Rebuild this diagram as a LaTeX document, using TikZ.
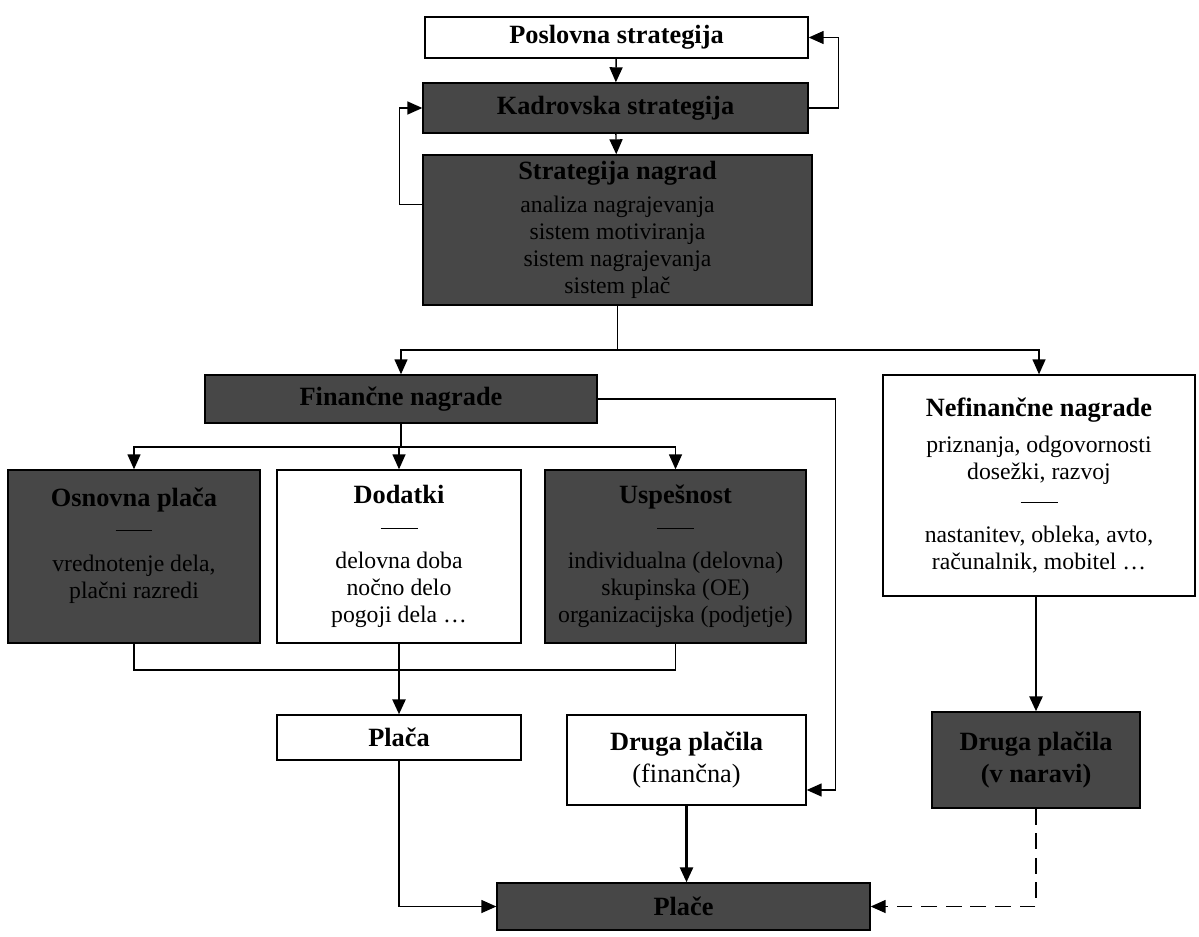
\documentclass[tikz,border=0pt]{standalone}
\usepackage{fontspec}
\setmainfont{Liberation Serif}
\usepackage{tikz}
\usetikzlibrary{arrows.meta,positioning,calc}
\newcommand{\sepline}{\rule[0.3em]{0.74cm}{0.6pt}}
\newcommand{\hd}[1]{{\fontsize{15}{17}\selectfont\bfseries #1}}

\begin{document}
\begin{tikzpicture}[x=0.02cm, y=-0.02cm,
    every node/.style={font=\fontsize{13.5}{15.5}\selectfont},
    lightbox/.style={draw, line width=0.8pt, fill=white, align=center, inner sep=2pt},
    darkbox/.style={lightbox, fill=black!72},
    arr/.style={line width=0.8pt, -{Triangle[length=3mm, width=2.6mm]}},
    thickarr/.style={line width=1.5pt, -{Triangle[length=3mm, width=2.6mm]}},
    link/.style={line width=0.8pt}]
    \useasboundingbox (0,0) rectangle (1199,936);

    % Strategy levels
    \node[lightbox, minimum width=7.66cm, minimum height=0.82cm] (posl) at (616.5,37.5) {\hd{Poslovna strategija}};
    \node[darkbox, minimum width=7.7cm, minimum height=1cm] (kadr) at (615.5,108) {\hd{Kadrovska strategija}};
    \node[darkbox, inner ysep=0pt, minimum width=7.78cm, minimum height=3cm] (strat) at (617.5,230)
        {\hd{Strategija nagrad}\\[3pt] analiza nagrajevanja\\ sistem motiviranja\\ sistem nagrajevanja\\ sistem plač};

    % Reward groups
    \node[darkbox, minimum width=7.84cm, minimum height=0.96cm] (fin) at (401,399) {\hd{Finančne nagrade}};
    \node[lightbox, minimum width=6.24cm, minimum height=4.42cm] (nefin) at (1039,485.5)
        {\hd{Nefinančne nagrade}\\[5pt] priznanja, odgovornosti\\ dosežki, razvoj\\[2pt] \sepline\\[3pt] nastanitev, obleka, avto,\\ računalnik, mobitel \dots};

    % Financial components
    \node[darkbox, minimum width=5.04cm, minimum height=3.46cm] (osn) at (134,556.5)
        {\hd{Osnovna plača}\\[3pt] \sepline\\[3pt] vrednotenje dela,\\ plačni razredi\\ ~};
    \node[lightbox, minimum width=4.88cm, minimum height=3.46cm] (dod) at (399,556.5)
        {\hd{Dodatki}\\[3pt] \sepline\\[3pt] delovna doba\\ nočno delo\\ pogoji dela \dots};
    \node[darkbox, minimum width=5.22cm, minimum height=3.46cm] (usp) at (675.5,556.5)
        {\hd{Uspešnost}\\[3pt] \sepline\\[3pt] individualna (delovna)\\ skupinska (OE)\\ organizacijska (podjetje)};

    % Payments
    \node[lightbox, minimum width=4.88cm, minimum height=0.9cm] (plac) at (399,737.5) {\hd{Plača}};
    \node[lightbox, minimum width=4.78cm, minimum height=1.8cm] (druga) at (686.5,760)
        {\hd{Druga plačila}\\[3pt] {\fontsize{15}{17}\selectfont (finančna)}};
    \node[darkbox, minimum width=4.16cm, minimum height=1.92cm] (narav) at (1036,760) {\hd{Druga plačila}\\[3pt] \hd{(v naravi)}};
    \node[darkbox, minimum width=7.46cm, minimum height=0.94cm] (place) at (683.5,906.5) {\hd{Plače}};

    % Strategy arrows and feedback
    \draw[arr] (posl) -- (kadr);
    \draw[arr] (kadr) -- (strat);
    \draw[arr] ([yshift=-1cm]strat.north west) -- ++(-23,0) |- (kadr.west);
    \draw[arr] (kadr.east) -- ++(30,0) |- (posl.east);

    % Split into reward groups
    \coordinate (splitA) at (617.5,350);
    \draw[link] (strat.south) -- (splitA);
    \draw[arr] (splitA) -| (fin.north);
    \draw[arr] (splitA) -| (nefin.north);

    % Financial components
    \coordinate (splitB) at (401,447);
    \draw[link] (fin.south) -- (splitB);
    \draw[arr] (splitB) -| (osn.north);
    \draw[arr] (splitB) -| (dod.north);
    \draw[arr] (splitB) -| (usp.north);

    % Merge into salary
    \coordinate (mergeB) at (399,670);
    \draw[link] (osn.south) |- (mergeB) -| (usp.south);
    \draw[thickarr] (dod.south) -- (plac.north);
    \draw[arr] (fin.east) -- ++(238,0) |- ([yshift=-0.6cm]druga.east);
    \draw[thickarr] (nefin.south -| narav.north) -- (narav.north);

    % Into total pay
    \draw[arr] (plac.south) |- (place.west);
    \draw[thickarr] (druga.south) -- (druga.south |- place.north);
    \draw[arr, dashed, dash pattern=on 9pt off 5pt] (narav.south) |- (place.east);
\end{tikzpicture}
\end{document}
